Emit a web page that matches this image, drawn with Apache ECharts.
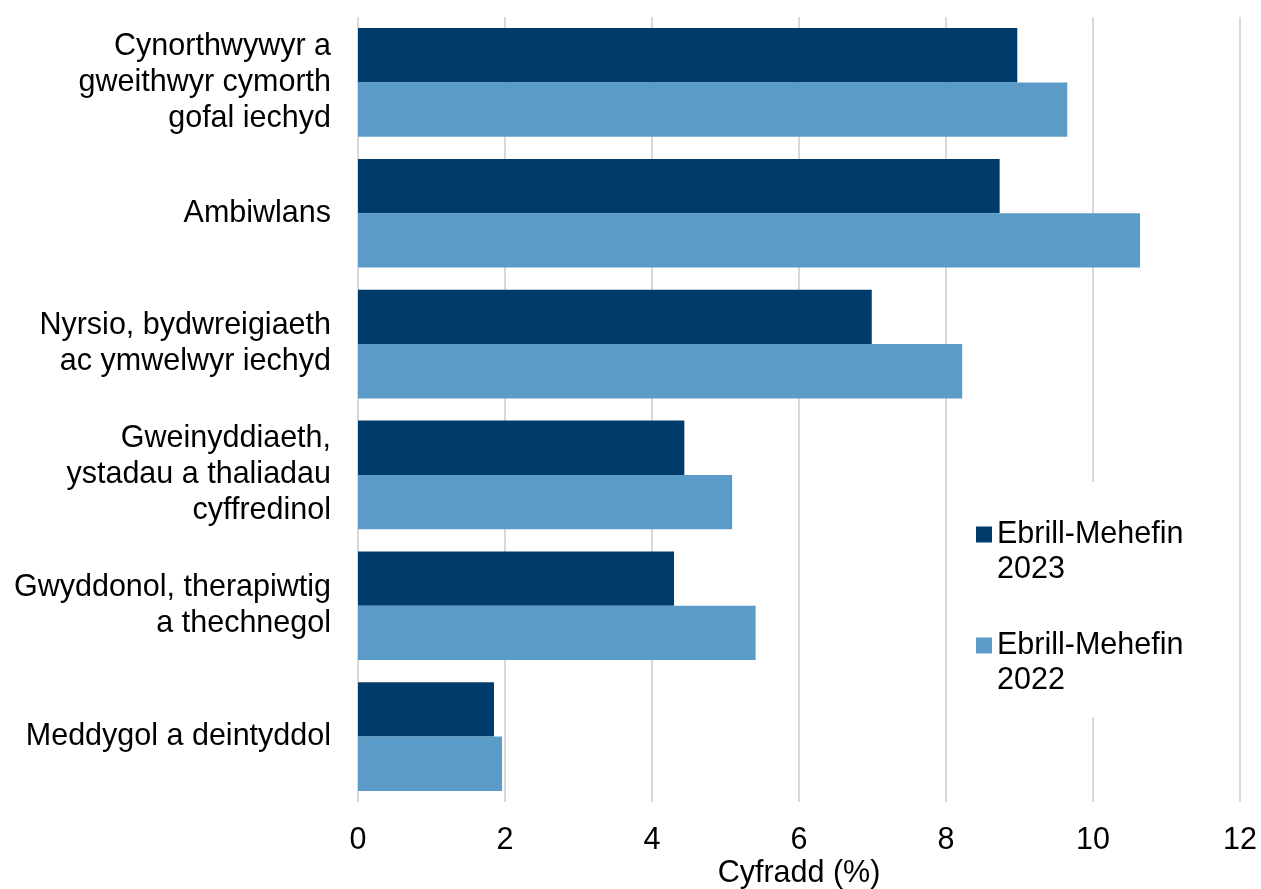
<!doctype html>
<html>
<head>
<meta charset="UTF-8">
<title>Cyfradd</title>
<style>
  html, body { margin: 0; padding: 0; background: #fff; }
  #main { width: 1261px; height: 889px; }
</style>
</head>
<body>
<div id="main"></div>
<script src="https://cdn.jsdelivr.net/npm/echarts@6/dist/echarts.min.js"></script>
<script type="text/javascript">
// categories, top to bottom as in the picture
var categories = [
    'Cynorthwywyr a\ngweithwyr cymorth\ngofal iechyd',
    'Ambiwlans',
    'Nyrsio, bydwreigiaeth\nac ymwelwyr iechyd',
    'Gweinyddiaeth,\nystadau a thaliadau\ncyffredinol',
    'Gwyddonol, therapiwtig\na thechnegol',
    'Meddygol a deintyddol'
];
var seriesNames = ['Ebrill-Mehefin\n2023', 'Ebrill-Mehefin\n2022'];
var values2023 = [8.97, 8.73, 6.99, 4.44, 4.30, 1.85];
var values2022 = [9.65, 10.64, 8.22, 5.09, 5.41, 1.96];
var xTicks = [0, 2, 4, 6, 8, 10, 12];

var myChart = echarts.init(document.getElementById('main'));

var font = 'Liberation Sans, Arial, sans-serif';
var fs = 30.5;

option = {
    animation: false,
    textStyle: { fontFamily: font },
    grid: { left: 358, right: 21, top: 17, bottom: 87, outerBoundsMode: 'none' },
    legend: {
        orient: 'vertical',
        left: 962,
        top: 482,
        padding: [0, 40, 19, 14],
        backgroundColor: '#fff',
        itemWidth: 16,
        itemHeight: 16,
        itemGap: 6,
        icon: 'rect',
        // leading blank line keeps the marker level with the first text line
        formatter: function (name) { return '\n' + name; },
        textStyle: {
            fontSize: fs,
            lineHeight: 35,
            color: '#000',
            fontFamily: font
        },
        data: seriesNames
    },
    xAxis: {
        type: 'value',
        min: xTicks[0],
        max: xTicks[xTicks.length - 1],
        interval: 2,
        name: 'Cyfradd (%)',
        nameLocation: 'middle',
        nameGap: 56,
        nameMoveOverlap: false,
        nameTextStyle: { fontSize: fs, color: '#000', fontFamily: font },
        axisLine: { show: false },
        axisTick: { show: false },
        axisLabel: { fontSize: fs, color: '#000', margin: 23, fontFamily: font },
        splitLine: { lineStyle: { color: '#d9d9d9', width: 2 } }
    },
    yAxis: {
        type: 'category',
        inverse: true,
        data: categories,
        axisLine: { show: false },
        axisTick: { show: false },
        axisLabel: {
            fontSize: fs,
            lineHeight: 36,
            color: '#000',
            margin: 27,
            align: 'right',
            fontFamily: font
        }
    },
    series: [
        {
            name: seriesNames[0],
            type: 'bar',
            data: values2023,
            barGap: '0%',
            barCategoryGap: '17%',
            itemStyle: { color: '#003c6b' }
        },
        {
            name: seriesNames[1],
            type: 'bar',
            data: values2022,
            barGap: '0%',
            barCategoryGap: '17%',
            itemStyle: { color: '#5b9bc8' }
        }
    ]
};
myChart.setOption(option);
</script>
</body>
</html>
